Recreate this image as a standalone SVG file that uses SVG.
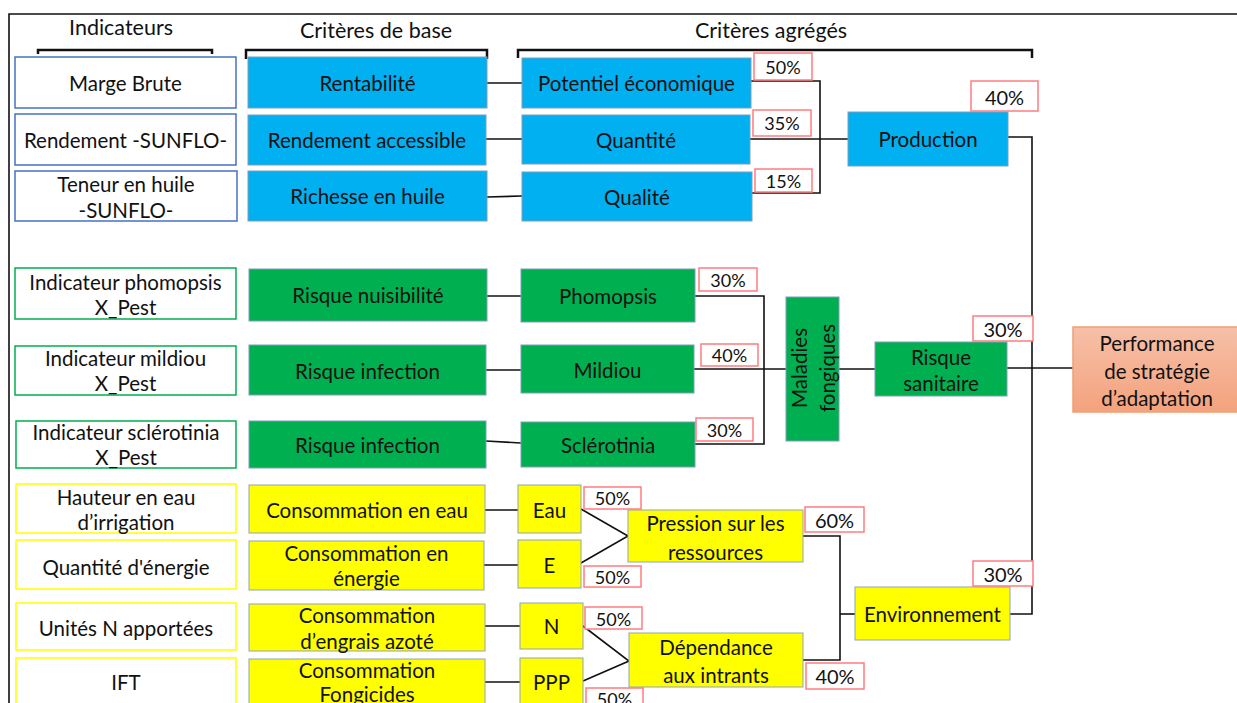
<svg xmlns="http://www.w3.org/2000/svg" width="1237" height="703" viewBox="0 0 1237 703">
<style>
text{font-family:Lato,"Open Sans","Liberation Sans",sans-serif;fill:#111;text-anchor:middle;dominant-baseline:central}
.t{font-size:20.5px}
.h{font-size:21.5px}
.p{font-size:18px}
.pl{font-size:20px}
.ib{fill:#fff;stroke:#4472C4;stroke-width:1.5}
.ig{fill:#fff;stroke:#00B050;stroke-width:1.5}
.iy{fill:#fff;stroke:#FFFF00;stroke-width:1.5}
.bb{fill:#00B0F0;stroke:#7F9DB9;stroke-width:1}
.bg{fill:#00B050;stroke:#7F9DB9;stroke-width:1}
.by{fill:#FFFF00;stroke:#8FA3B8;stroke-width:1}
.pc{fill:#fff;stroke:#FF7C80;stroke-width:1.5}
.c{fill:none;stroke:#111;stroke-width:1.6}
.br{fill:none;stroke:#111;stroke-width:2.5}
</style>
<defs>
<linearGradient id="og" x1="0" y1="0" x2="0" y2="1">
<stop offset="0" stop-color="#F6C0A8"/>
<stop offset="1" stop-color="#F4A27E"/>
</linearGradient>
</defs>

<g id="frame">
<polyline class="c" points="9,703 9,14 1237,14"/>
</g>

<g id="headers">
<text class="h" x="121" y="26.5">Indicateurs</text>
<text class="h" x="376" y="29.5">Critères de base</text>
<text class="h" x="771" y="29.5">Critères agrégés</text>
<polyline class="br" points="38,54 38,50 212,50 212,54"/>
<polyline class="br" points="246,59 246,50 487,50 487,59"/>
<polyline class="br" points="518,58 518,50 1032,50 1032,58"/>
</g>

<g id="connectors">
<line class="c" x1="487" y1="83" x2="522" y2="83"/>
<line class="c" x1="486" y1="139" x2="522" y2="139"/>
<line class="c" x1="487" y1="197" x2="522" y2="196"/>
<polyline class="c" points="751,81 820,81 820,193 752,193"/>
<line class="c" x1="750" y1="139" x2="848" y2="139"/>
<polyline class="c" points="1008,137 1032,137 1032,614 1010,614"/>
<line class="c" x1="487" y1="296" x2="521" y2="296"/>
<line class="c" x1="486" y1="370" x2="521" y2="370"/>
<line class="c" x1="486" y1="441" x2="521" y2="443"/>
<polyline class="c" points="695,296 764,296 764,444 695,444"/>
<line class="c" x1="694" y1="369" x2="786" y2="369"/>
<line class="c" x1="839" y1="369" x2="875" y2="369"/>
<line class="c" x1="1007" y1="368" x2="1073" y2="368"/>
<line class="c" x1="485" y1="510" x2="518" y2="510"/>
<line class="c" x1="484" y1="565" x2="518" y2="565"/>
<line class="c" x1="485" y1="626" x2="520" y2="626"/>
<line class="c" x1="485" y1="682" x2="520" y2="682"/>
<polyline class="c" points="581,509 628,536 581,563"/>
<polyline class="c" points="583,626 629,661 583,681"/>
<polyline class="c" points="803,536 840,536 840,660 803,660"/>
<line class="c" x1="840" y1="614" x2="855" y2="614"/>
</g>

<g id="ind-marge"><rect class="ib" x="15" y="57" width="221" height="51"/><text class="t" x="125.5" y="83">Marge Brute</text></g>
<g id="ind-rendement"><rect class="ib" x="15" y="114" width="221" height="51"/><text class="t" x="125.5" y="140">Rendement -SUNFLO-</text></g>
<g id="ind-teneur"><rect class="ib" x="15" y="171" width="222" height="50"/><text class="t" x="126" y="184">Teneur en huile</text><text class="t" x="126" y="210">-SUNFLO-</text></g>

<g id="rentabilite"><rect class="bb" x="248" y="57" width="239" height="51"/><text class="t" x="367.5" y="83">Rentabilité</text></g>
<g id="rendement-accessible"><rect class="bb" x="248" y="115" width="238" height="50"/><text class="t" x="367" y="140">Rendement accessible</text></g>
<g id="richesse"><rect class="bb" x="248" y="171" width="239" height="50"/><text class="t" x="367.5" y="196">Richesse en huile</text></g>

<g id="potentiel"><rect class="bb" x="522" y="58" width="229" height="50"/><text class="t" x="636.5" y="83">Potentiel économique</text></g>
<g id="quantite"><rect class="bb" x="522" y="115" width="228" height="49"/><text class="t" x="636" y="140">Quantité</text></g>
<g id="qualite"><rect class="bb" x="522" y="172" width="230" height="49"/><text class="t" x="637" y="197">Qualité</text></g>

<g id="pct-50a"><rect class="pc" x="754" y="53" width="58" height="27"/><text class="p" x="783" y="67">50%</text></g>
<g id="pct-35"><rect class="pc" x="753" y="110" width="58" height="26"/><text class="p" x="782" y="123">35%</text></g>
<g id="pct-15"><rect class="pc" x="755" y="169" width="57" height="23"/><text class="p" x="783.5" y="181">15%</text></g>

<g id="production"><rect class="bb" x="848" y="112" width="160" height="54"/><text class="t" x="928" y="139">Production</text></g>
<g id="pct-40a"><rect class="pc" x="971" y="81" width="67" height="30"/><text class="pl" x="1004.5" y="97">40%</text></g>

<g id="ind-phomopsis"><rect class="ig" x="15" y="268" width="221" height="51"/><text class="t" x="125.5" y="282">Indicateur phomopsis</text><text class="t" x="125.5" y="307">X_Pest</text></g>
<g id="ind-mildiou"><rect class="ig" x="15" y="346" width="221" height="49"/><text class="t" x="125.5" y="358">Indicateur mildiou</text><text class="t" x="125.5" y="383">X_Pest</text></g>
<g id="ind-sclerotinia"><rect class="ig" x="16" y="421" width="220" height="47"/><text class="t" x="126" y="432">Indicateur sclérotinia</text><text class="t" x="126" y="457">X_Pest</text></g>

<g id="risque-nuisibilite"><rect class="bg" x="249" y="269" width="238" height="52"/><text class="t" x="368" y="295">Risque nuisibilité</text></g>
<g id="risque-infection-1"><rect class="bg" x="249" y="345" width="237" height="50"/><text class="t" x="367.5" y="371">Risque infection</text></g>
<g id="risque-infection-2"><rect class="bg" x="249" y="421" width="237" height="47"/><text class="t" x="367.5" y="445">Risque infection</text></g>

<g id="phomopsis"><rect class="bg" x="521" y="269" width="174" height="53"/><text class="t" x="608" y="296">Phomopsis</text></g>
<g id="mildiou"><rect class="bg" x="521" y="345" width="173" height="48"/><text class="t" x="607.5" y="370">Mildiou</text></g>
<g id="sclerotinia"><rect class="bg" x="521" y="422" width="174" height="45"/><text class="t" x="608" y="445">Sclérotinia</text></g>

<g id="pct-30a"><rect class="pc" x="699" y="268" width="58" height="23"/><text class="p" x="728" y="280">30%</text></g>
<g id="pct-40b"><rect class="pc" x="701" y="344" width="57" height="22"/><text class="p" x="729.5" y="355">40%</text></g>
<g id="pct-30b"><rect class="pc" x="696" y="418" width="57" height="23"/><text class="p" x="724.5" y="430">30%</text></g>

<g id="maladies"><rect class="bg" x="786" y="297" width="53" height="144"/><text class="t" transform="translate(799,368) rotate(-90)">Maladies</text><text class="t" transform="translate(827,368) rotate(-90)">fongiques</text></g>

<g id="risque-sanitaire"><rect class="bg" x="875" y="342" width="132" height="54"/><text class="t" x="941" y="357">Risque</text><text class="t" x="941" y="383">sanitaire</text></g>
<g id="pct-30c"><rect class="pc" x="973" y="316" width="60" height="25"/><text class="pl" x="1003" y="329">30%</text></g>

<g id="performance"><rect x="1073" y="327" width="170" height="85" fill="url(#og)" stroke="#F0A070" stroke-width="1.5"/><text class="t" x="1157" y="343">Performance</text><text class="t" x="1157" y="371">de stratégie</text><text class="t" x="1157" y="398">d’adaptation</text></g>

<g id="ind-hauteur"><rect class="iy" x="16" y="484" width="220" height="49"/><text class="t" x="126" y="497">Hauteur en eau</text><text class="t" x="126" y="522">d’irrigation</text></g>
<g id="ind-energie"><rect class="iy" x="16" y="540" width="220" height="49"/><text class="t" x="126" y="567">Quantité d'énergie</text></g>
<g id="ind-unites"><rect class="iy" x="16" y="603" width="220" height="47"/><text class="t" x="126" y="628">Unités N apportées</text></g>
<g id="ind-ift"><rect class="iy" x="16" y="658" width="220" height="60"/><text class="t" x="126" y="682">IFT</text></g>

<g id="conso-eau"><rect class="by" x="249" y="485" width="236" height="48"/><text class="t" x="367" y="510">Consommation en eau</text></g>
<g id="conso-energie"><rect class="by" x="249" y="541" width="235" height="49"/><text class="t" x="366.5" y="553">Consommation en</text><text class="t" x="366.5" y="578">énergie</text></g>
<g id="conso-engrais"><rect class="by" x="249" y="604" width="236" height="47"/><text class="t" x="367" y="615">Consommation</text><text class="t" x="367" y="641">d’engrais azoté</text></g>
<g id="conso-fongicides"><rect class="by" x="249" y="659" width="236" height="60"/><text class="t" x="367" y="670">Consommation</text><text class="t" x="367" y="694">Fongicides</text></g>

<g id="eau"><rect class="by" x="518" y="485" width="63" height="48"/><text class="t" x="549.5" y="510">Eau</text></g>
<g id="e"><rect class="by" x="518" y="540" width="63" height="48"/><text class="t" x="549.5" y="565">E</text></g>
<g id="n"><rect class="by" x="520" y="603" width="63" height="46"/><text class="t" x="551.5" y="626">N</text></g>
<g id="ppp"><rect class="by" x="520" y="658" width="63" height="60"/><text class="t" x="551.5" y="682">PPP</text></g>

<g id="pct-50b"><rect class="pc" x="584" y="487" width="57" height="22"/><text class="p" x="612.5" y="498">50%</text></g>
<g id="pct-50c"><rect class="pc" x="584" y="566" width="57" height="21"/><text class="p" x="612.5" y="577">50%</text></g>
<g id="pct-50d"><rect class="pc" x="585" y="607" width="57" height="22"/><text class="p" x="613.5" y="619">50%</text></g>
<g id="pct-50e"><rect class="pc" x="586" y="688" width="57" height="24"/><text class="p" x="614.5" y="699">50%</text></g>

<g id="pression"><rect class="by" x="628" y="510" width="175" height="52"/><text class="t" x="715.5" y="523">Pression sur les</text><text class="t" x="715.5" y="552">ressources</text></g>
<g id="dependance"><rect class="by" x="629" y="633" width="174" height="54"/><text class="t" x="716" y="647">Dépendance</text><text class="t" x="716" y="675">aux intrants</text></g>

<g id="pct-60"><rect class="pc" x="805" y="507" width="59" height="25"/><text class="pl" x="834.5" y="520">60%</text></g>
<g id="pct-40c"><rect class="pc" x="806" y="663" width="58" height="26"/><text class="pl" x="835" y="676">40%</text></g>

<g id="environnement"><rect class="by" x="855" y="587" width="155" height="53"/><text class="t" x="932.5" y="614">Environnement</text></g>
<g id="pct-30d"><rect class="pc" x="973" y="561" width="60" height="25"/><text class="pl" x="1003" y="574">30%</text></g>
</svg>
